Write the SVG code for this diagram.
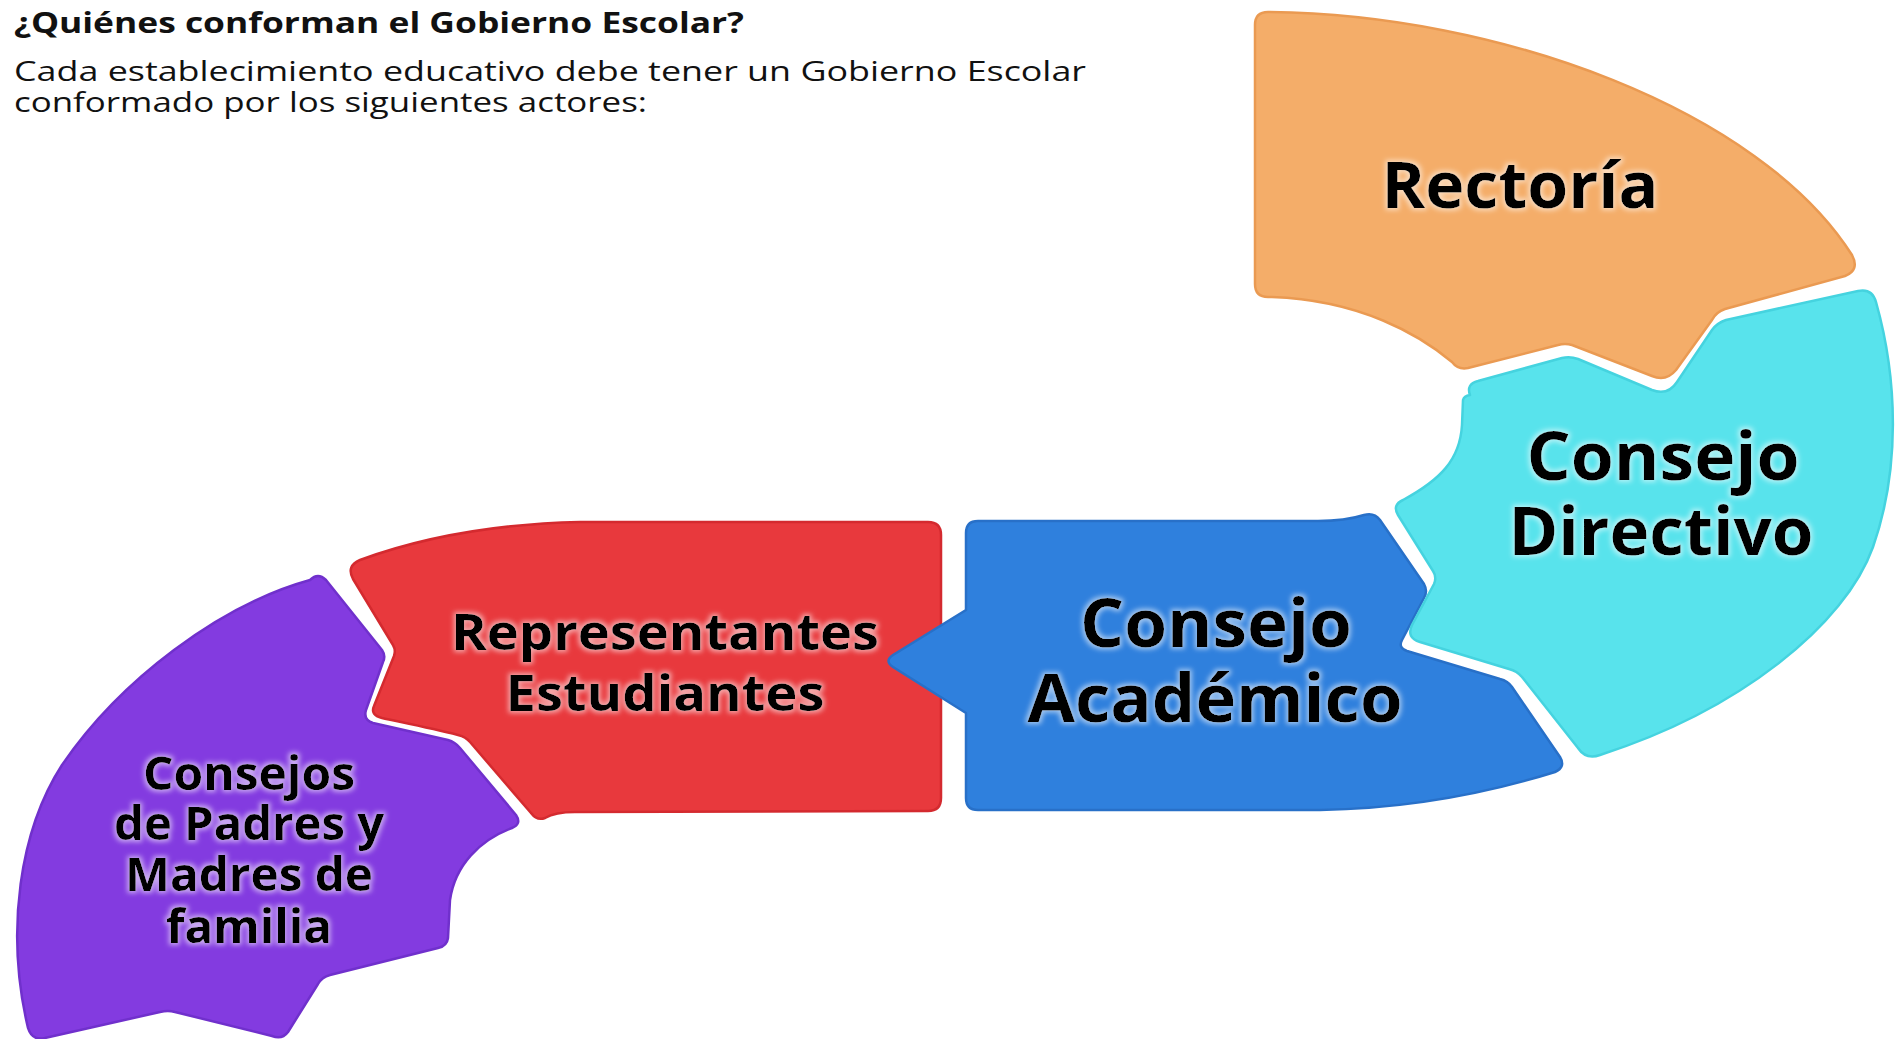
<svg xmlns="http://www.w3.org/2000/svg" width="1896" height="1039" viewBox="0 0 1896 1039">
<style>
.hdr{font-family:"Open Sans","Liberation Sans",sans-serif;fill:#111;}
.t{font-family:"Open Sans","Liberation Sans",sans-serif;font-weight:700;fill:#000;text-anchor:middle;filter:url(#glow);}
.shape{stroke-width:2.5;stroke-linejoin:round;}
</style>
<defs>
<filter id="glow" x="-10%" y="-30%" width="120%" height="160%">
<feMorphology in="SourceAlpha" operator="dilate" radius="2" result="d"/>
<feGaussianBlur in="d" stdDeviation="2.5" result="b"/>
<feFlood flood-color="#ffffff" flood-opacity="0.55"/>
<feComposite in2="b" operator="in" result="g"/>
<feMerge><feMergeNode in="g"/><feMergeNode in="SourceGraphic"/></feMerge>
</filter>
</defs>
<rect width="1896" height="1039" fill="#ffffff"/>
<g id="heading">
<text class="hdr" x="14" y="33" font-size="28" font-weight="700" textLength="730" lengthAdjust="spacingAndGlyphs">¿Quiénes conforman el Gobierno Escolar?</text>
<text class="hdr" x="14" y="81" font-size="28" textLength="1072" lengthAdjust="spacingAndGlyphs">Cada establecimiento educativo debe tener un Gobierno Escolar</text>
<text class="hdr" x="14" y="112" font-size="28" textLength="633" lengthAdjust="spacingAndGlyphs">conformado por los siguientes actores:</text>
</g>
<g id="connectors"></g>
<g id="node-padres">
<path class="shape" fill="#833BE0" stroke="#7030CC" d="M 310,580 Q 318,572 326,580 L 382,650 Q 386,656 383,662 L 366,710 Q 363,720 373,723 L 448,740 Q 455,742 460,748 L 516,815 Q 522,824 512,828 C 480,840 455,865 450,900 L 448,938 Q 447,946 438,948 L 330,975 Q 322,977 318,984 L 288,1032 Q 282,1040 272,1036 L 175,1012 Q 168,1010 160,1012 L 45,1038 Q 32,1041 28,1028 C 5,930 20,830 62,765 C 120,680 220,605 310,580 Z"/>
<text class="t" x="249" y="790" font-size="46" textLength="212" lengthAdjust="spacingAndGlyphs">Consejos</text>
<text class="t" x="249" y="840" font-size="46" textLength="270" lengthAdjust="spacingAndGlyphs">de Padres y</text>
<text class="t" x="249" y="891" font-size="46" textLength="248" lengthAdjust="spacingAndGlyphs">Madres de</text>
<text class="t" x="249" y="943" font-size="46" textLength="166" lengthAdjust="spacingAndGlyphs">familia</text>
</g>
<g id="node-representantes">
<path class="shape" fill="#E8393D" stroke="#D42A2F" d="M 580,522 L 928,522 Q 941,522 941,535 L 941,798 Q 941,811 928,811 L 575,812 Q 555,812 545,818 Q 537,821 531,813 L 470,742 Q 466,737 458,735 C 430,728 400,722 382,718 Q 370,715 374,706 L 394,656 Q 396,650 393,645 L 353,579 Q 346,566 360,560 C 420,538 490,524 580,522 Z"/>
<text class="t" x="665" y="650" font-size="50" textLength="428" lengthAdjust="spacingAndGlyphs">Representantes</text>
<text class="t" x="665" y="711" font-size="50" textLength="319" lengthAdjust="spacingAndGlyphs">Estudiantes</text>
</g>
<g id="node-consejo-academico">
<path class="shape" fill="#2F80DD" stroke="#2870C8" d="M 978,521 L 1318,521 Q 1345,521 1364,515 Q 1374,512 1380,520 L 1424,584 Q 1428,591 1424,598 L 1402,640 Q 1398,648 1407,651 L 1500,679 Q 1508,681 1512,687 L 1560,757 Q 1566,767 1555,772 Q 1440,808 1320,810 L 978,810 Q 966,810 966,798 L 966,713 L 893,667 Q 884,661 893,655 L 966,610 L 966,533 Q 966,521 978,521 Z"/>
<text class="t" x="1216" y="647" font-size="66" textLength="272" lengthAdjust="spacingAndGlyphs">Consejo</text>
<text class="t" x="1215" y="722" font-size="66" textLength="375" lengthAdjust="spacingAndGlyphs">Académico</text>
</g>
<g id="node-consejo-directivo">
<path class="shape" fill="#58E3EC" stroke="#45D3DF" d="M 1470,395 Q 1466,384 1478,381 L 1562,358 Q 1570,356 1578,359 L 1652,390 Q 1668,396 1677,382 L 1712,330 Q 1717,323 1726,320 L 1858,291 Q 1872,288 1876,302 C 1898,380 1900,470 1873,547 C 1845,625 1740,710 1600,755 Q 1586,760 1578,748 L 1522,677 Q 1517,671 1509,669 L 1420,642 Q 1406,638 1412,625 L 1434,584 Q 1437,577 1433,571 L 1398,515 Q 1392,505 1403,500 C 1440,480 1460,460 1462,425 L 1463,400 Q 1464,396 1470,395 Z"/>
<text class="t" x="1663" y="480" font-size="66" textLength="273" lengthAdjust="spacingAndGlyphs">Consejo</text>
<text class="t" x="1661" y="555" font-size="66" textLength="305" lengthAdjust="spacingAndGlyphs">Directivo</text>
</g>
<g id="node-rectoria">
<path class="shape" fill="#F4AD69" stroke="#EA9A52" d="M 1255,25 Q 1255,12 1268,12 C 1500,14 1760,110 1852,255 Q 1860,270 1845,276 L 1725,309 Q 1716,312 1712,320 L 1676,370 Q 1666,382 1652,376 L 1572,345 Q 1565,343 1558,345 L 1468,368 Q 1458,370 1452,362 C 1420,335 1360,300 1272,297 L 1268,297 Q 1255,297 1255,284 Z"/>
<text class="t" x="1520" y="208" font-size="64" textLength="277" lengthAdjust="spacingAndGlyphs">Rectoría</text>
</g>
</svg>
